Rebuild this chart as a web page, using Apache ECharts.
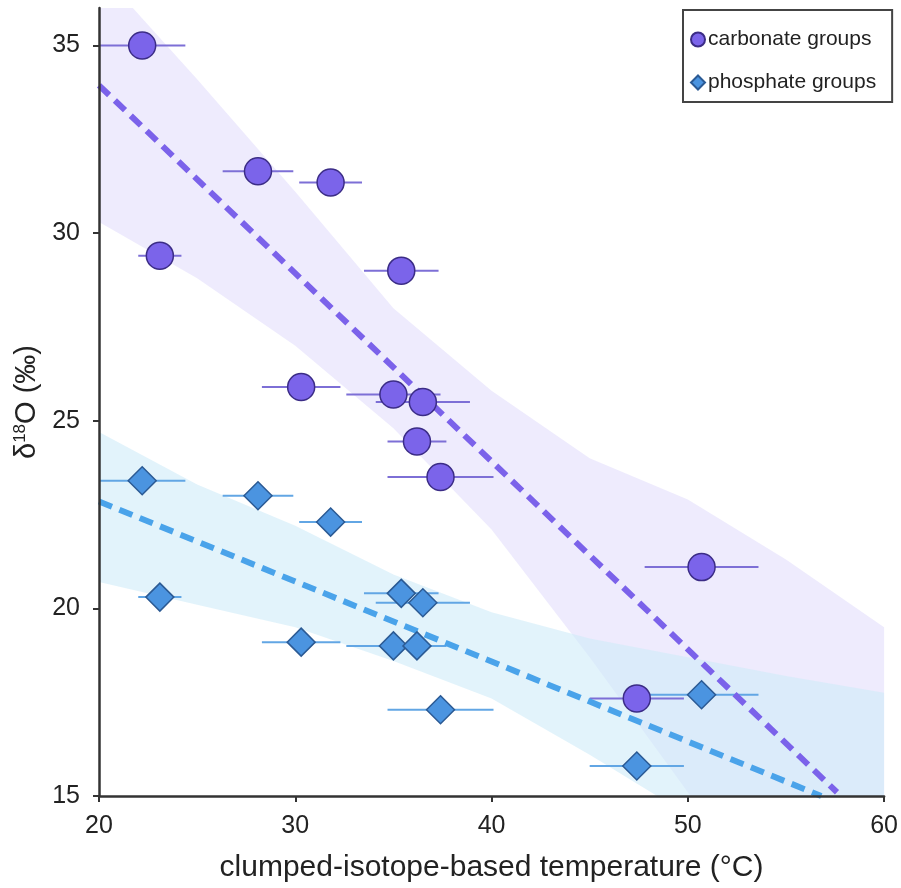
<!DOCTYPE html>
<html>
<head>
<meta charset="utf-8">
<script src="https://cdn.jsdelivr.net/npm/echarts@6/dist/echarts.min.js"></script>
<style>
  html, body { margin: 0; padding: 0; background: #fff; }
  #chart { width: 901px; height: 888px; }
</style>
</head>
<body>
<div id="chart"></div>
<script>
// group temperatures (°C) with their horizontal error half-widths
const tempC = [22.2, 28.1, 31.8, 23.1, 35.4, 30.3, 35.0, 36.5, 36.2, 37.4, 50.7, 47.4]
const tempErr = [2.2, 1.8, 1.6, 1.1, 1.9, 2.0, 2.4, 2.4, 1.5, 2.7, 2.9, 2.4]
// δ18O of each group
const carbonateD18O = [35.0, 31.65, 31.35, 29.4, 29.0, 25.9, 25.7, 25.5, 24.45, 23.5, 21.1, 17.6]
const phosphateD18O = [23.4, 23.0, 22.3, 20.3, 20.4, 19.1, 19.0, 20.15, 19.0, 17.3, 17.7, 15.8]

// regression lines (end points)
const carbonateFit = [[20, 33.94], [57.6, 15.1]]
const phosphateFit = [[20, 22.85], [56.8, 15.0]]

// confidence bands
const bandX = [20, 25, 30, 35, 40, 45, 50, 55, 60]
const carbonateUpper = [37.0, 34.1, 31.1, 28.0, 25.8, 24.0, 22.9, 21.3, 19.5]
const carbonateLower = [30.3, 28.8, 27.0, 24.8, 22.1, 18.7, 15.1, 11.5, 8.0]
const phosphateUpper = [24.7, 23.3, 22.2, 20.9, 19.9, 19.2, 18.7, 18.2, 17.75]
const phosphateLower = [20.7, 20.1, 19.5, 18.6, 17.6, 16.1, 14.5, 12.8, 11.0]

const xTicks = [20, 30, 40, 50, 60]
const yTicks = [15, 20, 25, 30, 35]

const FONT = 'Liberation Sans'

function bandSeries(upper, lower, color, z) {
  return {
    type: 'custom',
    clip: true,
    z: z,
    silent: true,
    data: bandX.map((x, i) => [x, upper[i], lower[i]]),
    renderItem: (params, api) => {
      if (params.dataIndex !== 0) return null
      const top = bandX.map((x, i) => api.coord([x, upper[i]]))
      const bottom = bandX.map((x, i) => api.coord([x, lower[i]])).reverse()
      return {
        type: 'polygon',
        shape: { points: top.concat(bottom) },
        style: { fill: color },
      }
    },
  }
}

function errorBars(yValues, color) {
  return {
    type: 'custom',
    clip: true,
    z: 2,
    silent: true,
    data: tempC.map((x, i) => [x, yValues[i], tempErr[i]]),
    renderItem: (params, api) => {
      const x = api.value(0)
      const y = api.value(1)
      const e = api.value(2)
      const a = api.coord([x - e, y])
      const b = api.coord([x + e, y])
      return {
        type: 'line',
        shape: { x1: a[0], y1: a[1], x2: b[0], y2: b[1] },
        style: { stroke: color, lineWidth: 2 },
      }
    },
  }
}

function fitLine(points, color) {
  return {
    type: 'line',
    z: 3,
    silent: true,
    symbol: 'none',
    data: points,
    lineStyle: { color: color, width: 6, type: [14, 8], cap: 'butt' },
  }
}

const chart = echarts.init(document.getElementById('chart'))
chart.setOption({
  animation: false,
  backgroundColor: '#fff',
  textStyle: { fontFamily: FONT },
  grid: { left: 99, right: 14, top: 8, bottom: 91 },
  legend: {
    left: 683,
    top: 10,
    orient: 'vertical',
    data: ['carbonate groups', 'phosphate groups'],
    itemWidth: 14,
    itemHeight: 14,
    itemGap: 22,
    padding: [19, 16, 9, 7],
    borderColor: '#444',
    borderWidth: 2,
    borderRadius: 0,
    backgroundColor: '#fff',
    textStyle: { fontFamily: FONT, fontSize: 21, color: '#222', padding: [0, 0, 0, -2] },
  },
  xAxis: {
    type: 'value',
    z: 5,
    min: 20,
    max: 60,
    interval: 10,
    name: 'clumped-isotope-based temperature (°C)',
    nameLocation: 'middle',
    nameGap: 57,
    nameTextStyle: { fontFamily: FONT, fontSize: 30, color: '#222' },
    axisLine: { show: true, onZero: false, lineStyle: { color: '#333', width: 2.5 } },
    axisTick: { show: true, length: 6, lineStyle: { color: '#333', width: 2 }, customValues: xTicks },
    axisLabel: { fontFamily: FONT, fontSize: 25, color: '#222', margin: 18, customValues: xTicks },
    splitLine: { show: false },
  },
  yAxis: {
    type: 'value',
    z: 5,
    min: 15,
    max: 36,
    interval: 5,
    name: 'δ{sup|18}O (‰)',
    nameLocation: 'middle',
    nameGap: 58,
    nameRotate: 90,
    nameTextStyle: {
      fontFamily: FONT,
      fontSize: 29,
      color: '#222',
      rich: {
        sup: { fontFamily: FONT, fontSize: 17, color: '#222', verticalAlign: 'top', padding: [0, 0, 10, 0] },
      },
    },
    axisLine: { show: true, onZero: false, lineStyle: { color: '#333', width: 2.5 } },
    axisTick: { show: true, length: 6, lineStyle: { color: '#333', width: 2 }, customValues: yTicks },
    axisLabel: { fontFamily: FONT, fontSize: 25, color: '#222', margin: 19, customValues: yTicks },
    splitLine: { show: false },
  },
  series: [
    bandSeries(carbonateUpper, carbonateLower, 'rgba(123,104,238,0.13)', 1),
    bandSeries(phosphateUpper, phosphateLower, 'rgba(207,235,248,0.6)', 1),
    errorBars(carbonateD18O, '#7d6fd6'),
    errorBars(phosphateD18O, '#62a6e4'),
    fitLine(carbonateFit, '#7b62ea'),
    fitLine(phosphateFit, '#4aa3ea'),
    {
      name: 'carbonate groups',
      type: 'scatter',
      z: 4,
      symbol: 'circle',
      symbolSize: 27,
      data: tempC.map((x, i) => [x, carbonateD18O[i]]),
      itemStyle: { color: '#7b64ea', borderColor: '#3b2c86', borderWidth: 1.5, opacity: 1 },
    },
    {
      name: 'phosphate groups',
      type: 'scatter',
      z: 4,
      symbol: 'diamond',
      symbolSize: 28,
      data: tempC.map((x, i) => [x, phosphateD18O[i]]),
      itemStyle: { color: '#4b94e0', borderColor: '#2b5a94', borderWidth: 1.5, opacity: 1 },
    },
  ],
})
</script>
</body>
</html>
